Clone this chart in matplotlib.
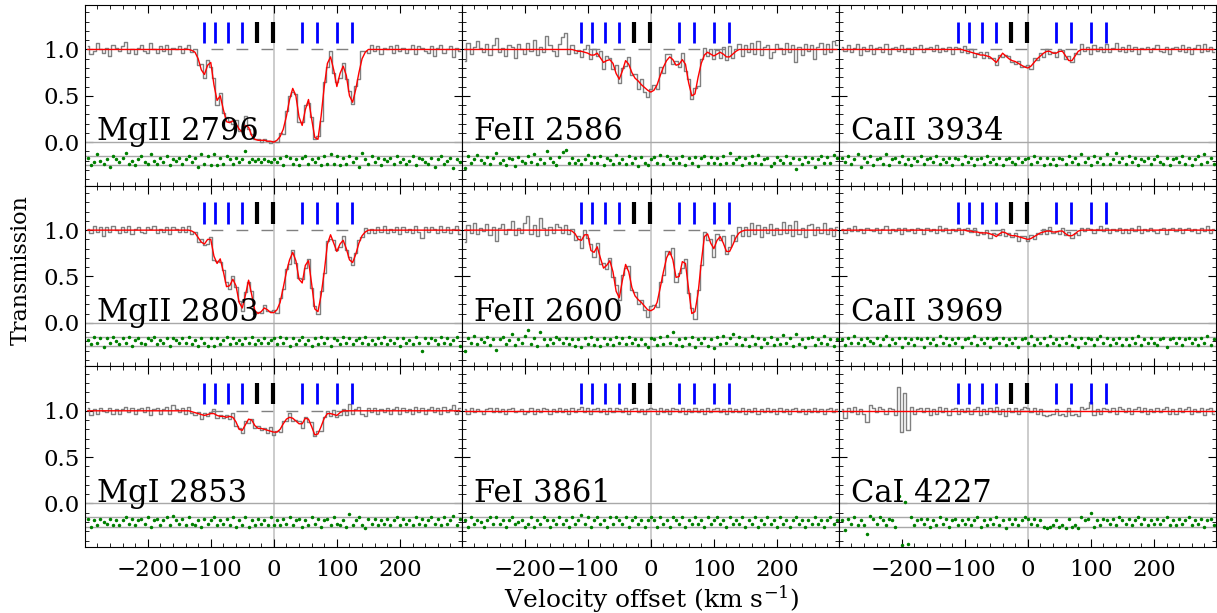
import numpy as np
import matplotlib
matplotlib.use('Agg')
import matplotlib.pyplot as plt
from matplotlib.ticker import MultipleLocator

plt.rcParams['font.family'] = 'DejaVu Serif'
plt.rcParams['mathtext.fontset'] = 'dejavuserif'

# velocity grid of the spectra (km/s)
vel = np.arange(-295, 296, 5)
# the fitted models differ from 1 only between -135 and 150 km/s
win_start = -135

line_names = ['MgII 2796', 'FeII 2586', 'CaII 3934',
              'MgII 2803', 'FeII 2600', 'CaII 3969',
              'MgI 2853', 'FeI 3861', 'CaI 4227']

# component positions (km/s)
comp_blue = [-110, -93, -73, -50, 44, 68, 100, 124]
comp_black = [-26, -1]

# model (red) inside the window, step 5 km/s from -135 to 150
model_mg2796 = [1.0, 0.99, 0.97, 0.9, 0.78, 0.73, 0.83, 0.86, 0.62, 0.45,
                0.5, 0.35, 0.22, 0.21, 0.23, 0.2, 0.14, 0.11, 0.18, 0.16,
                0.07, 0.03, 0.02, 0.02, 0.02, 0.01, 0.01, 0.0, 0.02, 0.06,
                0.14, 0.28, 0.46, 0.58, 0.5, 0.27, 0.18, 0.35, 0.46, 0.25,
                0.05, 0.03, 0.28, 0.6, 0.85, 0.92, 0.78, 0.6, 0.74, 0.82,
                0.72, 0.5, 0.43, 0.57, 0.75, 0.9, 0.97, 1.0]
model_fe2586 = [1.0, 1.0, 1.0, 0.99, 0.98, 0.98, 0.97, 0.96, 0.94, 0.94,
                0.96, 0.91, 0.86, 0.88, 0.89, 0.85, 0.74, 0.68, 0.77, 0.88,
                0.84, 0.75, 0.69, 0.66, 0.62, 0.59, 0.56, 0.54, 0.56, 0.62,
                0.72, 0.81, 0.88, 0.92, 0.89, 0.83, 0.84, 0.89, 0.84, 0.64,
                0.5, 0.52, 0.7, 0.85, 0.94, 0.97, 0.95, 0.93, 0.95, 0.97,
                0.95, 0.92, 0.92, 0.95, 0.98, 1.0, 1.0, 1.0]
model_ca3934 = [1.0, 1.0, 1.0, 1.0, 1.0, 1.0, 1.0,
                0.99, 0.98, 0.97, 0.96, 0.95, 0.94, 0.94, 0.93, 0.92, 0.89,
                0.86, 0.91, 0.96, 0.93, 0.9, 0.88, 0.87, 0.85, 0.83, 0.81,
                0.8, 0.82, 0.86, 0.9, 0.93, 0.96, 0.98, 0.98, 0.96, 0.96,
                0.98, 0.98, 0.93, 0.88, 0.88, 0.93, 0.98, 1.0,
                1.0, 1.0, 1.0, 1.0, 1.0, 1.0, 1.0, 1.0, 1.0, 1.0, 1.0, 1.0, 1.0]
model_mg2803 = [1.0, 0.99, 0.97, 0.92, 0.87, 0.85, 0.9, 0.9, 0.72, 0.64,
                0.69, 0.55, 0.39, 0.4, 0.47, 0.4, 0.22, 0.16, 0.3, 0.46,
                0.3, 0.13, 0.1, 0.12, 0.16, 0.14, 0.11, 0.11, 0.14, 0.22,
                0.38, 0.55, 0.68, 0.76, 0.67, 0.47, 0.43, 0.62, 0.67, 0.42,
                0.15, 0.12, 0.3, 0.55, 0.85, 0.95, 0.86, 0.77, 0.85, 0.89,
                0.8, 0.68, 0.65, 0.74, 0.86, 0.94, 0.98, 1.0]
model_fe2600 = [1.0, 1.0, 0.99, 0.96, 0.9, 0.89, 0.95, 0.95, 0.78, 0.76,
                0.82, 0.7, 0.59, 0.62, 0.67, 0.55, 0.34, 0.27, 0.46, 0.63,
                0.55, 0.38, 0.29, 0.25, 0.22, 0.18, 0.14, 0.13, 0.15, 0.22,
                0.38, 0.55, 0.7, 0.77, 0.68, 0.49, 0.5, 0.66, 0.64, 0.36,
                0.1, 0.12, 0.32, 0.65, 0.93, 0.96, 0.86, 0.8, 0.89, 0.93,
                0.86, 0.77, 0.77, 0.84, 0.92, 0.97, 0.99, 1.0]
model_ca3969 = [1.0, 1.0, 1.0, 1.0, 1.0, 1.0, 1.0,
                1.0, 0.99, 0.99, 0.98, 0.98, 0.97, 0.97, 0.97, 0.96, 0.95,
                0.93, 0.96, 0.98, 0.97, 0.95, 0.94, 0.94, 0.93, 0.92, 0.91,
                0.9, 0.91, 0.93, 0.95, 0.97, 0.98, 0.99, 0.99, 0.98, 0.98,
                0.99, 0.99, 0.96, 0.94, 0.94, 0.96, 0.99, 1.0,
                1.0, 1.0, 1.0, 1.0, 1.0, 1.0, 1.0, 1.0, 1.0, 1.0, 1.0, 1.0, 1.0]
model_mg2853 = [1.0, 0.99, 0.98, 0.97, 0.96, 0.95, 0.96, 0.97, 0.97, 0.95,
                0.94, 0.94, 0.93, 0.94, 0.93, 0.88, 0.8, 0.79, 0.85, 0.91,
                0.9, 0.84, 0.81, 0.81, 0.8, 0.79, 0.78, 0.77, 0.77, 0.8,
                0.86, 0.91, 0.93, 0.92, 0.89, 0.86, 0.86, 0.92, 0.91, 0.83,
                0.74, 0.75, 0.83, 0.92, 0.97, 0.97, 0.96, 0.95, 0.98, 1.0,
                1.0, 1.0, 1.0, 1.0, 1.0, 1.0, 1.0, 1.0]
model_fe3861 = None
model_ca4227 = None

# data - model, in counts of flux_step (119 pixels each)
dev_mg2796 = """
2 -3 -1 4 0 -2 1 -4 3 1
-1 2 5 -2 0 -3 1 3 -1 -2
4 0 -2 2 -1 3 -3 1 0 2
-2 1 3 -1 2 -4 4 -2 3 -3
4 -3 2 -2 3 1 -2 2 -1 1
6 -1 1 0 1 -1 1 0 -1 1
-1 2 -3 3 2 -2 1 -3 2 3
-2 1 -1 2 -3 3 -2 4 -2 3
-3 2 -2 3 -1 2 -4 5 1 -2
3 -1 2 -3 1 0 2 -2 3 -1
1 -2 0 3 -3 2 1 -1 -2 2
-4 1 3 -2 0 2 -5 1 -1"""
dev_fe2586 = """
-8 5 -3 2 6 1 -2 4 -4 3
8 -2 1 -5 3 2 -6 4 0 -3
5 -1 7 -4 2 -2 10 3 -1 -5
4 9 12 -3 3 -2 1 -4 2 6
-3 4 -2 5 -5 3 1 -4 6 -3
2 -4 5 -2 3 -6 4 -3 -5 2
4 -3 6 -4 5 2 -3 3 -2 5
-5 3 -2 4 -6 3 5 -3 4 -2
3 -4 5 -2 8 -3 2 4 -5 3
-2 5 -3 6 -4 2 3 -6 -2 4
1 -3 5 -2 3 -9 2 -4 4 -1
3 -7 2 5 -3 4 -2 6 3"""
dev_ca3934 = """
2 -1 3 -2 1 4 -4 2 -1 3
-3 1 2 -2 4 -3 1 2 -1 3
-2 1 -3 2 0 3 -2 1 2 -1
3 -2 1 -1 2 -3 2 1 -2 3
-1 2 -3 1 2 -2 3 -1 1 -2
2 -3 1 2 -1 -2 2 -1 1 2
-2 3 -1 2 -3 2 -2 1 -3 2
1 -2 3 -1 2 -2 4 -1 2 -3
3 -1 2 -2 4 -2 1 5 -1 2
-2 3 -1 2 -3 1 0 2 -2 1
3 -1 -2 2 -3 1 2 -1 3 -2
2 -3 1 3 -2 4 -1 2 -2"""
dev_mg2803 = """
1 -2 3 -1 2 -4 2 -1 3 0
-2 2 -1 3 -3 1 2 -1 -2 2
1 3 -2 1 -1 2 -3 2 1 -1
2 -1 3 -2 1 -3 2 -1 -3 2
-3 2 -2 1 3 -2 2 -1 1 -2
2 -1 3 -2 1 -1 2 -1 1 2
-2 3 -1 2 -3 2 -2 1 3 -2
1 -3 2 -2 3 -1 2 -3 2 1
-2 3 -1 2 -2 1 2 -1 3 -2
1 -2 2 -1 3 -2 1 -1 2 -3
2 -1 1 -2 3 -1 -6 2 -1 2
1 -2 3 -1 2 -2 1 3 -3"""
dev_fe2600 = """
-10 4 -2 6 -3 2 -1 5 -4 3
-9 2 5 -3 1 8 -4 2 -2 6
12 -3 4 -5 10 2 -4 3 -2 5
3 -2 4 -3 2 -5 3 -6 4 -3
5 -4 3 -5 4 -3 2 -4 5 -2
4 -3 5 -2 3 -4 2 -3 -6 4
3 -4 5 -3 6 -2 10 -4 3 -5
4 -3 5 -6 3 -2 4 -5 3 -7
5 -3 6 -2 4 8 -3 5 -4 3
-5 6 -3 4 -6 3 -2 5 -4 2
-3 7 -2 4 -5 8 -3 2 -6 4
5 -4 3 -2 6 -3 2 -5 3"""
dev_ca3969 = """
1 -2 2 -1 3 -1 1 -2 2 0
-1 2 -2 1 3 -2 1 -1 2 -3
2 -1 1 -2 2 1 -3 2 -1 1
-2 3 -1 2 -2 1 -1 2 -3 1
2 -1 3 -2 1 -1 2 -3 1 2
-1 2 -2 1 -1 2 -3 1 2 -1
3 -2 1 -1 2 -2 3 -1 1 -2
2 -1 3 -2 1 -3 2 -1 2 1
-2 1 3 -1 2 -2 1 -1 2 -2
1 -2 2 -1 3 -2 1 -1 2 -1
-2 1 2 -3 1 2 -1 2 -2 1
2 -1 1 -2 2 -1 3 -2 1"""
dev_mg2853 = """
2 -3 1 -2 2 0 -1 2 -2 1
-2 1 3 -1 2 -2 1 2 -1 3
-3 1 2 -2 1 3 -2 4 1 -1
2 -2 3 -1 -2 1 -3 2 -1 1
3 -2 1 -1 2 -2 3 -3 1 -2
3 -3 1 -2 2 -1 1 -2 3 -2
1 -2 2 -1 3 -2 1 2 -3 1
-2 3 -1 2 -3 1 2 -2 3 -1
-2 1 -3 5 -2 1 3 -2 -4 2
-1 2 -2 1 -1 2 -2 1 3 -2
2 -1 1 -2 3 -1 2 -2 1 3
-1 2 -2 3 -1 1 4 -2 2"""
dev_fe3861 = """
1 -2 2 -1 1 0 -2 1 2 -1
2 -1 1 -2 1 2 -1 0 1 -2
-1 2 -2 1 -1 2 1 -2 1 -1
2 -1 1 -2 2 -1 1 3 -1 2
-2 1 2 -1 1 -2 2 -1 2 1
-1 2 -2 1 2 -1 1 -2 1 2
1 -2 2 -1 1 -2 2 1 -1 2
-2 1 -1 2 -1 1 -2 2 -1 1
2 -1 1 -2 2 -1 1 -1 2 -2
1 -1 2 -2 1 -1 2 -1 1 -2
2 -1 1 -2 1 2 -1 1 -2 1
-1 2 -1 1 -2 1 2 -1 1"""
dev_ca4227 = """
1 -5 2 -1 3 -2 1 -2 -8 4
2 -1 3 1 -2 2 1 -3 17 -15
13 -14 3 -2 1 2 -1 2 -3 1
-2 3 -1 2 -3 1 2 -2 1 -1
2 -2 1 3 -3 1 -2 2 -1 3
-2 1 -4 2 -1 2 -2 1 3 2
-1 2 -2 1 -3 -4 -3 -2 1 -3
-2 -4 2 -3 -2 -4 3 1 2 6
-3 1 -2 2 1 -1 2 -2 3 1
-1 2 -2 1 3 -1 2 -2 1 -1
2 -1 1 3 -2 1 -2 2 -1 1
3 -2 1 -1 2 -3 1 2 -2"""

# flux size of one count in the strings above, and the 1-sigma noise in counts
flux_step = [0.017, 0.015, 0.015, 0.015, 0.013, 0.014, 0.015, 0.015, 0.015]
sigma_counts = [3, 5, 3, 3, 5, 2.5, 3, 2, 3]

models = [model_mg2796, model_fe2586, model_ca3934,
          model_mg2803, model_fe2600, model_ca3969,
          model_mg2853, model_fe3861, model_ca4227]
devs = [dev_mg2796, dev_fe2586, dev_ca3934,
        dev_mg2803, dev_fe2600, dev_ca3969,
        dev_mg2853, dev_fe3861, dev_ca4227]


def full_model(win):
    """Put the windowed model onto the full velocity grid."""
    m = np.ones(len(vel))
    if win is None:
        return m
    i0 = int((win_start - vel[0]) / 5)
    m[i0:i0 + len(win)] = win
    return m


fig, axes = plt.subplots(3, 3, figsize=(12.17, 6.13), dpi=100,
                         sharex=True, sharey=True)
plt.subplots_adjust(left=85 / 1217, right=1216 / 1217, top=1 - 5 / 613,
                    bottom=1 - 547 / 613, wspace=0, hspace=0)

for k, ax in enumerate(axes.flat):
    model = full_model(models[k])
    counts = np.array(devs[k].split(), dtype=float)
    flux = model + counts * flux_step[k]
    # residuals (data - model)/sigma shown around -0.2, 1 sigma = 0.05
    resid = -0.2 + 0.05 * counts / sigma_counts[k]

    ax.axvline(0, color='#c4c4c4', lw=1.2, zorder=0)
    ax.axhline(0, color='#a8a8a8', lw=1)
    ax.axhline(-0.15, color='#a8a8a8', lw=1)
    ax.axhline(-0.25, color='#a8a8a8', lw=1)
    ax.plot([-100, 125], [1, 1], color='grey', lw=1, dashes=(8.5, 9.5))

    ax.plot(vel, flux, drawstyle='steps-mid', color='grey', lw=1)
    ax.plot(vel, model, color='red', lw=1)
    ax.plot(vel, resid, '.', color='green', ms=3)

    ax.vlines(comp_blue, 1.07, 1.30, color='blue', lw=2)
    ax.vlines(comp_black, 1.07, 1.30, color='black', lw=3)

    ax.text(-281, 0.02, line_names[k], fontsize=22)

    ax.xaxis.set_major_locator(MultipleLocator(100))
    ax.xaxis.set_minor_locator(MultipleLocator(20))
    ax.yaxis.set_major_locator(MultipleLocator(0.5))
    ax.yaxis.set_minor_locator(MultipleLocator(0.1))
    ax.tick_params(which='both', direction='in', top=True, right=True,
                   labelsize=16.5)
    ax.tick_params(which='major', length=6)
    ax.tick_params(which='minor', length=3)
    ax.tick_params(axis='x', pad=9)
    ax.tick_params(axis='y', pad=4)

ax.set_xlim(-299.5, 298.5)
ax.set_ylim(-0.47, 1.48)

fig.text(652 / 1217, 1 - 599 / 613, 'Velocity offset (km s$^{-1}$)',
         ha='center', va='center', fontsize=18)
fig.text(0.017, 1 - 270 / 613, 'Transmission', rotation=90, ha='center',
         va='center', fontsize=16)

plt.savefig('out.png', dpi=100)
